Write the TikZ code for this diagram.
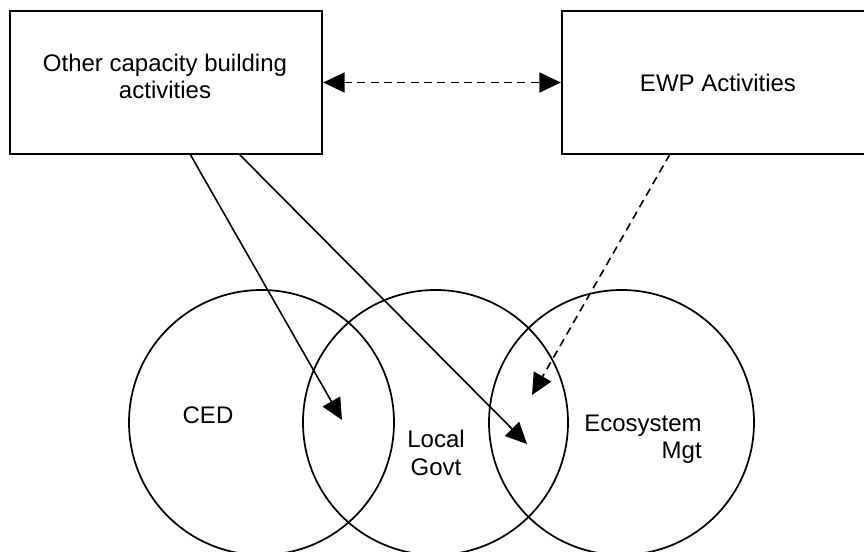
\documentclass[tikz,border=0pt]{standalone}
\usepackage{fontspec}
\setmainfont{Liberation Sans}
\usetikzlibrary{arrows.meta,calc}
\tikzset{
  boxnode/.style={draw,line width=1.8pt,minimum width=234pt,minimum height=107pt,inner sep=0pt},
  circnode/.style={draw,circle,line width=1.3pt,minimum size=198.75pt,inner sep=0pt},
  lbl/.style={font=\fontsize{18}{20.5}\selectfont,inner sep=0pt},
  tip/.style={-{Triangle[length=16pt,width=15pt]}},
  conn/.style={line width=1.2pt,tip},
  dconn/.style={conn,dash pattern=on 6pt off 4pt},
}
\begin{document}
\begin{tikzpicture}[x=0.75pt,y=-0.75pt]
\useasboundingbox (0,0) rectangle (864,552);
\clip (0,0) rectangle (864,552);
% boxes
\node[boxnode] (L) at (166,82.5) {};
\node[boxnode] (R) at (718,82.5) {};
\node[lbl,align=center] (Lt) at (165,76.5) {Other capacity building\\activities};
\node[lbl] (Rt) at (718,83) {EWP Activities};
% circles
\node[circnode] (C1) at (261.5,422.5) {};
\node[circnode] (C2) at (435.5,422.5) {};
\node[circnode] (C3) at (621.5,422.5) {};
\node[lbl] (ced) at (208,415) {CED};
\node[lbl,align=center] (lg) at (436,453) {Local\\Govt};
\node[lbl,align=right,anchor=east] (eco) at (702,439) {Ecosystem\\Mgt};
% endpoints
\coordinate (s1) at (190,154);
\coordinate (s2) at (239,154);
\coordinate (s3) at (670,154);
\coordinate (e1) at (342,420);
\coordinate (e2) at (527,444);
\coordinate (e3) at (532,395);
% connectors
\draw[dconn,{Triangle[length=16pt,width=15pt]}-{Triangle[length=16pt,width=15pt]}] (L.east) -- (R.west);
\draw[conn] (s1) -- (e1);
\draw[conn] (s2) -- (e2);
\draw[dconn] (s3) -- (e3);
\end{tikzpicture}
\end{document}
